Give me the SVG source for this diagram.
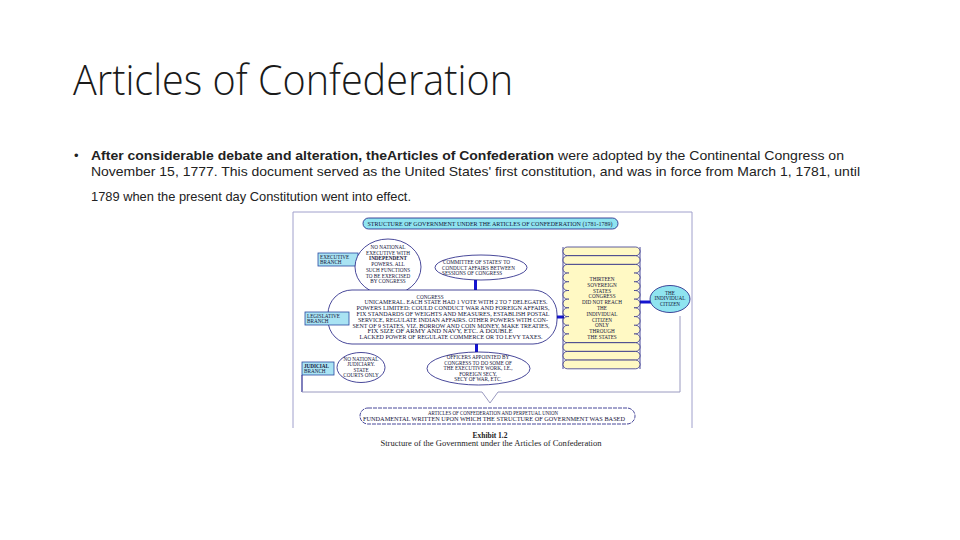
<svg xmlns="http://www.w3.org/2000/svg" width="960" height="540" viewBox="0 0 960 540">
<defs>
<style>
.title{font-family:"Open Sans","Liberation Sans",sans-serif;font-weight:300;font-size:42px;fill:#1a1a1a}
.body{font-family:"Liberation Sans",Arial,sans-serif;font-size:13px;fill:#222}
.bold{font-weight:bold}
.t{font-family:"Liberation Serif","Times New Roman",serif;font-size:5.2px;fill:#14143a;text-anchor:middle}
.tl{font-family:"Liberation Serif","Times New Roman",serif;font-size:5.2px;fill:#14143a}
.cap{font-family:"Liberation Serif","Times New Roman",serif;fill:#222;text-anchor:middle}
.frame{fill:none;stroke:#a0a0cc;stroke-width:1}
.cyan{fill:#8fe4f0;stroke:#1a1a80;stroke-width:0.8}
.box{fill:#a9e3f3;stroke:#2a4aa0;stroke-width:0.8}
.oval{fill:#ffffff;stroke:#1a1a80;stroke-width:0.8}
.yel{fill:#fff9c4;stroke:#1a1a80;stroke-width:0.7}
.conn{stroke:#1414d0;stroke-width:3;fill:none}
.thin{stroke:#9a9ac0;stroke-width:1;fill:none}
.dark{stroke:#2a2a90;stroke-width:1.2;fill:none}
</style>
</defs>
<rect width="960" height="540" fill="#ffffff"/>

<text class="title" x="73" y="95" textLength="440" lengthAdjust="spacingAndGlyphs">Articles of Confederation</text>

<g id="bullet">
<text class="body" x="74" y="160" font-size="11" fill="#666">•</text>
<text class="body bold" x="91" y="160" textLength="463" lengthAdjust="spacingAndGlyphs">After considerable debate and alteration, theArticles of Confederation</text>
<text class="body" x="558" y="160" textLength="286" lengthAdjust="spacingAndGlyphs">were adopted by the Continental Congress on</text>
<text class="body" x="91" y="176" textLength="769" lengthAdjust="spacingAndGlyphs">November 15, 1777. This document served as the United States' first constitution, and was in force from March 1, 1781, until</text>
<text class="body" x="91" y="201" textLength="320" lengthAdjust="spacingAndGlyphs">1789 when the present day Constitution went into effect.</text>
</g>

<g id="frame">
<path class="frame" d="M293,428 V212 H692 V428"/>
</g>

<g id="connectors">
<line class="conn" x1="475.5" y1="280" x2="475.5" y2="292"/>
<line class="conn" x1="476.5" y1="343" x2="476.5" y2="352"/>
<line class="conn" x1="556" y1="317" x2="564" y2="317"/>
<line class="conn" x1="640" y1="302" x2="651" y2="302"/>
<path class="dark" d="M302,375 V392"/>
<path class="thin" d="M302,392 H482 L490,403 L498,392 H680 V316"/>
</g>

<g id="header">
<rect class="cyan" x="363" y="218" width="255" height="11" rx="5.5"/>
<text class="t" x="490" y="225.5" font-size="4.8" textLength="245" lengthAdjust="spacingAndGlyphs">STRUCTURE OF GOVERNMENT UNDER THE ARTICLES OF CONFEDERATION (1781-1789)</text>
</g>

<g id="executive-branch">
<rect class="box" x="318" y="253" width="40" height="13"/>
<text class="tl" x="320" y="258.5">EXECUTIVE</text>
<text class="tl" x="320" y="264">BRANCH</text>
</g>

<g id="no-executive">
<ellipse class="oval" cx="388" cy="267" rx="33" ry="28"/>
<text class="t" x="388" y="249">NO NATIONAL</text>
<text class="t" x="388" y="254.7">EXECUTIVE WITH</text>
<text class="t" x="388" y="260.4" font-weight="bold">INDEPENDENT</text>
<text class="t" x="388" y="266.1">POWERS. ALL</text>
<text class="t" x="388" y="271.8">SUCH FUNCTIONS</text>
<text class="t" x="388" y="277.5">TO BE EXERCISED</text>
<text class="t" x="388" y="283.2">BY CONGRESS</text>
</g>

<g id="committee">
<ellipse class="oval" cx="481" cy="267.5" rx="46" ry="12.5"/>
<text class="tl" x="442" y="264">'COMMITTEE OF STATES' TO</text>
<text class="tl" x="442" y="269.5">CONDUCT AFFAIRS BETWEEN</text>
<text class="tl" x="442" y="275">SESSIONS OF CONGRESS</text>
</g>

<g id="congress">
<rect class="oval" x="328" y="290" width="229" height="54" rx="24"/>
<text class="t" x="430" y="298.5">CONGRESS</text>
<text class="t" x="456" y="304.3" textLength="183" lengthAdjust="spacingAndGlyphs">UNICAMERAL. EACH STATE HAD 1 VOTE WITH 2 TO 7 DELEGATES.</text>
<text class="t" x="453" y="310.1" textLength="193" lengthAdjust="spacingAndGlyphs">POWERS LIMITED: COULD CONDUCT WAR AND FOREIGN AFFAIRS,</text>
<text class="t" x="453" y="315.9" textLength="193" lengthAdjust="spacingAndGlyphs">FIX STANDARDS OF WEIGHTS AND MEASURES, ESTABLISH POSTAL</text>
<text class="t" x="453" y="321.7" textLength="190" lengthAdjust="spacingAndGlyphs">SERVICE, REGULATE INDIAN AFFAIRS. OTHER POWERS WITH CON-</text>
<text class="t" x="451" y="327.5" textLength="197" lengthAdjust="spacingAndGlyphs">SENT OF 9 STATES, VIZ. BORROW AND COIN MONEY, MAKE TREATIES,</text>
<text class="t" x="440" y="333.3" textLength="145" lengthAdjust="spacingAndGlyphs">FIX SIZE OF ARMY AND NAVY, ETC. A DOUBLE</text>
<text class="t" x="451" y="339.1" textLength="183" lengthAdjust="spacingAndGlyphs">LACKED POWER OF REGULATE COMMERCE OR TO LEVY TAXES.</text>
</g>

<g id="legislative-branch">
<rect class="box" x="305" y="312" width="44" height="13"/>
<text class="tl" x="307" y="317.5">LEGISLATIVE</text>
<text class="tl" x="307" y="323">BRANCH</text>
</g>

<g id="judicial-branch">
<rect class="box" x="302" y="362" width="32" height="13"/>
<text class="tl" x="304" y="367.5" font-weight="bold">JUDICIAL</text>
<text class="tl" x="304" y="373">BRANCH</text>
</g>

<g id="no-judiciary">
<ellipse class="oval" cx="361" cy="367.5" rx="24" ry="15"/>
<text class="t" x="361" y="360.5">NO NATIONAL</text>
<text class="t" x="361" y="366">JUDICIARY.</text>
<text class="t" x="361" y="371.5">STATE</text>
<text class="t" x="361" y="377">COURTS ONLY</text>
</g>

<g id="officers">
<ellipse class="oval" cx="478.5" cy="368.5" rx="51.5" ry="16.5"/>
<text class="t" x="478" y="359">OFFICERS APPOINTED BY</text>
<text class="t" x="478" y="364.5">CONGRESS TO DO SOME OF</text>
<text class="t" x="478" y="370">THE EXECUTIVE WORK, I.E.,</text>
<text class="t" x="478" y="375.5">FOREIGN SECY,</text>
<text class="t" x="478" y="381">SECY OF WAR, ETC.</text>
</g>

<g id="states-stack">
<line x1="563" y1="247" x2="563" y2="369" stroke="#1a1a80" stroke-width="0.8"/>
<line x1="640" y1="247" x2="640" y2="369" stroke="#1a1a80" stroke-width="0.8"/>
<rect class="yel" x="563" y="247" width="77" height="8.7" rx="4.35"/>
<rect class="yel" x="563" y="255.7" width="77" height="8.7" rx="4.35"/>
<rect class="yel" x="563" y="264.4" width="77" height="8.7" rx="4.35"/>
<rect class="yel" x="563" y="273.1" width="77" height="8.7" rx="4.35"/>
<rect class="yel" x="563" y="281.8" width="77" height="8.7" rx="4.35"/>
<rect class="yel" x="563" y="290.5" width="77" height="8.7" rx="4.35"/>
<rect class="yel" x="563" y="299.2" width="77" height="8.7" rx="4.35"/>
<rect class="yel" x="563" y="307.9" width="77" height="8.7" rx="4.35"/>
<rect class="yel" x="563" y="316.6" width="77" height="8.7" rx="4.35"/>
<rect class="yel" x="563" y="325.3" width="77" height="8.7" rx="4.35"/>
<rect class="yel" x="563" y="334" width="77" height="8.7" rx="4.35"/>
<rect class="yel" x="563" y="342.7" width="77" height="8.7" rx="4.35"/>
<rect class="yel" x="563" y="351.4" width="77" height="8.7" rx="4.35"/>
<rect class="yel" x="563" y="360.1" width="77" height="8.7" rx="4.35"/>
<rect x="569" y="272" width="65" height="70" fill="#fff9c4"/>
<text class="t" x="602" y="281">THIRTEEN</text>
<text class="t" x="602" y="286.8">SOVEREIGN</text>
<text class="t" x="602" y="292.6">STATES</text>
<text class="t" x="602" y="298.4">CONGRESS</text>
<text class="t" x="602" y="304.2">DID NOT REACH</text>
<text class="t" x="602" y="310">THE</text>
<text class="t" x="602" y="315.8">INDIVIDUAL</text>
<text class="t" x="602" y="321.6">CITIZEN</text>
<text class="t" x="602" y="327.4">ONLY</text>
<text class="t" x="602" y="333.2">THROUGH</text>
<text class="t" x="602" y="339">THE STATES</text>
</g>

<g id="citizen">
<ellipse class="cyan" cx="670" cy="299" rx="20" ry="13.5"/>
<text class="t" x="670" y="294.5">THE</text>
<text class="t" x="670" y="300">INDIVIDUAL</text>
<text class="t" x="670" y="305.5">CITIZEN</text>
</g>

<g id="articles">
<rect class="oval" x="360" y="408" width="275" height="16" rx="8" stroke-dasharray="4,1"/>
<text class="t" x="493" y="414.5" textLength="130" lengthAdjust="spacingAndGlyphs">ARTICLES OF CONFEDERATION AND PERPETUAL UNION</text>
<text class="t" x="494" y="420.5" textLength="262" lengthAdjust="spacingAndGlyphs">FUNDAMENTAL WRITTEN UPON WHICH THE STRUCTURE OF GOVERNMENT WAS BASED</text>
</g>

<g id="caption">
<text class="cap" x="490" y="438" font-size="7.5" font-weight="bold">Exhibit 1.2</text>
<text class="cap" x="491" y="446" font-size="7.5" textLength="221" lengthAdjust="spacingAndGlyphs">Structure of the Government under the Articles of Confederation</text>
</g>
</svg>
